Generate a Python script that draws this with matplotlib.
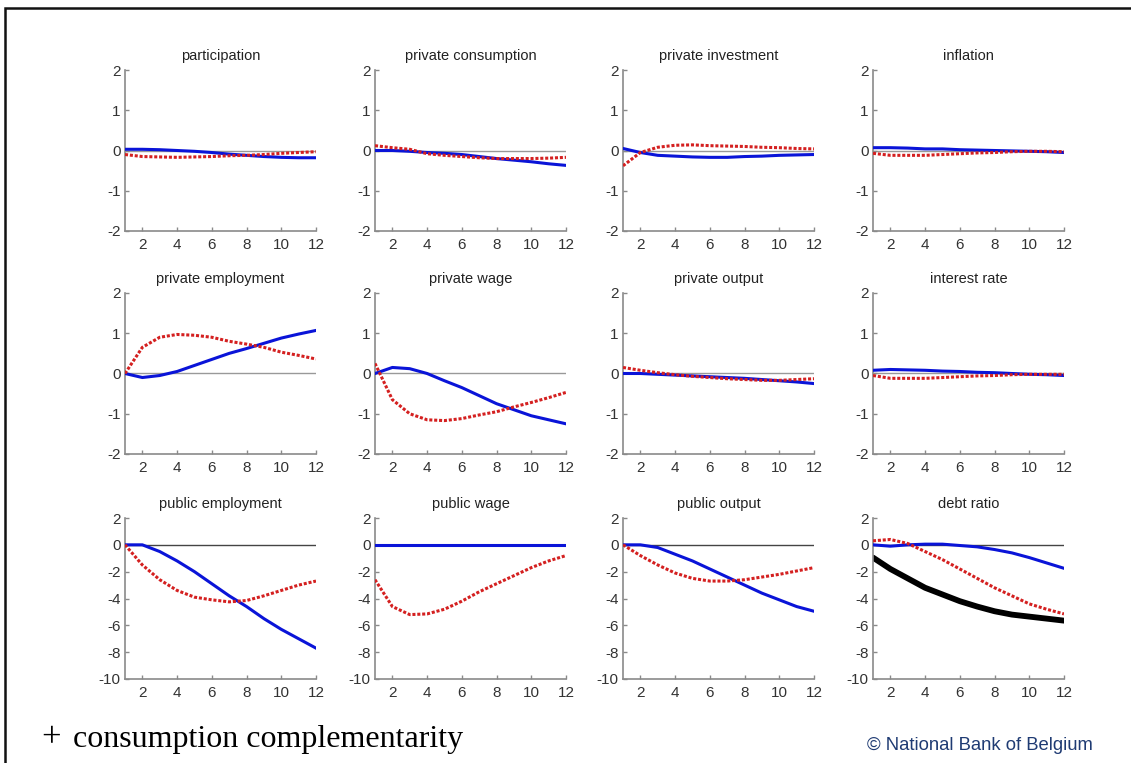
import matplotlib
matplotlib.use("Agg")
import matplotlib.pyplot as plt
from matplotlib.patches import Rectangle
import numpy as np

periods = list(range(1, 13))
xticks = [2, 4, 6, 8, 10, 12]

titles = ["participation", "private consumption", "private investment", "inflation",
          "private employment", "private wage", "private output", "interest rate",
          "public employment", "public wage", "public output", "debt ratio"]

# baseline (blue, solid)
participation_base = [0.03, 0.03, 0.02, 0.0, -0.02, -0.05, -0.09, -0.12, -0.15, -0.17, -0.18, -0.18]
consumption_base = [0.0, 0.0, -0.02, -0.05, -0.07, -0.1, -0.15, -0.2, -0.24, -0.28, -0.33, -0.37]
investment_base = [0.05, -0.05, -0.12, -0.14, -0.16, -0.17, -0.17, -0.15, -0.14, -0.12, -0.11, -0.1]
inflation_base = [0.07, 0.07, 0.06, 0.04, 0.04, 0.02, 0.01, 0.0, -0.01, -0.02, -0.03, -0.05]
priv_empl_base = [0.0, -0.1, -0.05, 0.05, 0.2, 0.35, 0.5, 0.62, 0.75, 0.88, 0.98, 1.07]
priv_wage_base = [0.0, 0.15, 0.12, 0.0, -0.18, -0.35, -0.55, -0.75, -0.9, -1.05, -1.15, -1.25]
priv_output_base = [0.0, 0.0, -0.02, -0.04, -0.06, -0.08, -0.1, -0.12, -0.15, -0.18, -0.21, -0.25]
interest_base = [0.08, 0.1, 0.09, 0.08, 0.06, 0.05, 0.03, 0.02, 0.0, -0.02, -0.03, -0.05]
pub_empl_base = [0.0, 0.0, -0.5, -1.2, -2.0, -2.9, -3.8, -4.6, -5.5, -6.3, -7.0, -7.7]
pub_wage_base = [0.0, 0.0, 0.0, 0.0, 0.0, 0.0, 0.0, 0.0, 0.0, 0.0, 0.0, 0.0]
pub_output_base = [0.0, 0.0, -0.2, -0.7, -1.2, -1.8, -2.4, -3.0, -3.6, -4.1, -4.6, -4.95]
debt_base = [0.0, -0.1, 0.0, 0.05, 0.05, -0.05, -0.15, -0.35, -0.6, -0.95, -1.35, -1.75]

# with consumption complementarity (red, dotted)
participation_cc = [-0.1, -0.15, -0.16, -0.17, -0.16, -0.15, -0.13, -0.12, -0.1, -0.07, -0.05, -0.03]
consumption_cc = [0.12, 0.07, 0.03, -0.08, -0.12, -0.15, -0.18, -0.2, -0.2, -0.2, -0.19, -0.17]
investment_cc = [-0.38, -0.05, 0.08, 0.13, 0.14, 0.12, 0.11, 0.1, 0.08, 0.07, 0.05, 0.04]
inflation_cc = [-0.07, -0.12, -0.12, -0.12, -0.1, -0.08, -0.06, -0.05, -0.03, -0.02, -0.02, -0.03]
priv_empl_cc = [0.0, 0.65, 0.9, 0.97, 0.95, 0.9, 0.8, 0.73, 0.65, 0.53, 0.45, 0.36]
priv_wage_cc = [0.25, -0.65, -1.0, -1.15, -1.17, -1.12, -1.03, -0.95, -0.83, -0.72, -0.6, -0.47]
priv_output_cc = [0.15, 0.08, 0.02, -0.03, -0.07, -0.1, -0.13, -0.15, -0.17, -0.17, -0.15, -0.13]
interest_cc = [-0.05, -0.12, -0.12, -0.12, -0.1, -0.08, -0.06, -0.05, -0.03, -0.02, -0.02, -0.02]
pub_empl_cc = [0.0, -1.5, -2.6, -3.4, -3.9, -4.1, -4.25, -4.15, -3.8, -3.4, -3.0, -2.7]
pub_wage_cc = [-2.6, -4.6, -5.2, -5.15, -4.8, -4.2, -3.5, -2.9, -2.3, -1.7, -1.2, -0.8]
pub_output_cc = [0.0, -0.8, -1.5, -2.1, -2.5, -2.7, -2.7, -2.6, -2.4, -2.2, -1.95, -1.7]
debt_cc = [0.3, 0.4, 0.1, -0.5, -1.1, -1.8, -2.5, -3.2, -3.8, -4.4, -4.8, -5.15]

# debt ratio extra series (black, thick)
debt_extra = [-0.95, -1.8, -2.5, -3.2, -3.7, -4.2, -4.6, -4.95, -5.2, -5.35, -5.5, -5.65]

base = [participation_base, consumption_base, investment_base, inflation_base,
        priv_empl_base, priv_wage_base, priv_output_base, interest_base,
        pub_empl_base, pub_wage_base, pub_output_base, debt_base]
cc = [participation_cc, consumption_cc, investment_cc, inflation_cc,
      priv_empl_cc, priv_wage_cc, priv_output_cc, interest_cc,
      pub_empl_cc, pub_wage_cc, pub_output_cc, debt_cc]

plt.rcParams['font.family'] = ['Liberation Sans', 'DejaVu Sans']
plt.rcParams['axes.unicode_minus'] = False

W, H = 1131, 763
fig = plt.figure(figsize=(W / 100, H / 100), dpi=100)

# frame
fig.patches.append(Rectangle((5 / W, -0.05), 1.1, 1 - 8 / H + 0.05, transform=fig.transFigure,
                             fill=False, edgecolor='#111111', linewidth=1.8, zorder=0))

lefts = [125, 375, 623, 873]
rows = [(70, 231), (293, 454), (518, 679)]
axw = 191

for i in range(12):
    r, c = divmod(i, 4)
    top, bot = rows[r]
    ax = fig.add_axes([lefts[c] / W, 1 - bot / H, axw / W, (bot - top) / H])
    if r < 2:
        ax.set_ylim(-2, 2)
        ax.set_yticks([-2, -1, 0, 1, 2])
        zc = '#999999'
    else:
        ax.set_ylim(-10, 2)
        ax.set_yticks([-10, -8, -6, -4, -2, 0, 2])
        zc = '#444444'
    ax.set_xlim(1, 12)
    ax.set_xticks(xticks)
    ax.axhline(0, color=zc, lw=1.0, zorder=1)
    if i == 11:
        ax.plot(periods, debt_extra, color='black', lw=4.2, solid_capstyle='round', zorder=2)
    ax.plot(periods, base[i], color='#0a14d8', lw=2.2, zorder=3)
    ax.plot(periods, cc[i], color='#d42020', lw=2.2, linestyle=(0, (1, 0.6)), zorder=4)
    ax.set_title(titles[i], fontsize=10.5, color='#222222', pad=7)
    for s in ['top', 'right']:
        ax.spines[s].set_visible(False)
    for s in ['left', 'bottom']:
        ax.spines[s].set_color('#8a8a8a')
        ax.spines[s].set_linewidth(1.2)
    ax.tick_params(direction='in', length=3, width=1, color='#8a8a8a',
                   labelsize=11, labelcolor='#333333')
    ax.tick_params(axis='y', pad=3)
    ax.tick_params(axis='x', pad=5)
    ax.patch.set_alpha(0)

fig.text(41 / W, 1 - 739 / H, "+", fontsize=25, family='Liberation Serif', va='center', ha='left')
fig.text(73 / W, 1 - 740 / H, "consumption complementarity", fontsize=23,
         family='Liberation Serif', va='center', ha='left', color='black')
fig.text(867 / W, 1 - 746 / H, "© National Bank of Belgium", fontsize=13.3,
         color='#1f3b73', va='center', ha='left')

fig.savefig("out.png", dpi=100)
